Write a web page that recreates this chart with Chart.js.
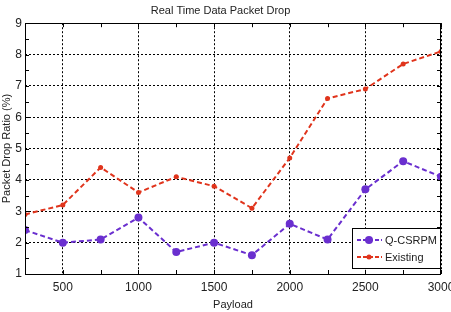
<!DOCTYPE html>
<html>
<head>
<meta charset="utf-8">
<script src="https://cdn.jsdelivr.net/npm/chart.js@4.4.0/dist/chart.umd.min.js"></script>
<style>
 html, body { margin: 0; padding: 0; background: #fff; }
 #wrap { width: 451px; height: 312px; }
</style>
</head>
<body>
<div id="wrap"><canvas id="packetDrop-canvas" width="451" height="312"></canvas></div>
<script>
// payload values (x axis)
var payload = [250, 500, 750, 1000, 1250, 1500, 1750, 2000, 2250, 2500, 2750, 3000];
// packet drop ratio (%)
var qcsrpm = [2.4, 2.0, 2.1, 2.8, 1.7, 2.0, 1.6, 2.6, 2.1, 3.7, 4.6, 4.1];
var existing = [2.9, 3.2, 4.4, 3.6, 4.1, 3.8, 3.1, 4.7, 6.6, 6.9, 7.7, 8.1];
var xTicks = [500, 1000, 1500, 2000, 2500, 3000];
var yTicks = [1, 2, 3, 4, 5, 6, 7, 8, 9];
var seriesNames = ["Q-CSRPM", "Existing"];

var lineColors = [
 "#6a2fcf", // purple
 "#e0341c", // red
];

function toPoints(values) {
 return payload.map(function (p, i) {
  return { x: p, y: values[i] };
 });
}

// frame, minor ticks and the boxed legend
var framePlugin = {
 id: "frame",
 afterDraw: function (chart) {
  var ctx = chart.ctx;
  var a = chart.chartArea;
  var xs = chart.scales.x;
  var ys = chart.scales.y;
  ctx.save();
  ctx.strokeStyle = "#000";
  ctx.lineWidth = 1;
  ctx.strokeRect(Math.round(a.left) + 0.5, Math.round(a.top) + 0.5, Math.round(a.right - a.left) - 1, Math.round(a.bottom - a.top));
  ctx.beginPath();
  for (var v = 250; v <= 3000; v += 250) {
   var px = Math.round(xs.getPixelForValue(v)) + 0.5;
   ctx.moveTo(px, a.bottom); ctx.lineTo(px, a.bottom - 4);
   ctx.moveTo(px, a.top); ctx.lineTo(px, a.top + 4);
  }
  for (var w = 1; w <= 9; w += 0.5) {
   var py = Math.round(ys.getPixelForValue(w)) + 0.5;
   ctx.moveTo(a.left, py); ctx.lineTo(a.left + 4, py);
   ctx.moveTo(a.right, py); ctx.lineTo(a.right - 4, py);
  }
  ctx.stroke();

  // legend box
  var bx = Math.round(a.right) - 89, by = Math.round(a.bottom) - 46, bw = 88, bh = 40;
  ctx.fillStyle = "#fff";
  ctx.fillRect(bx, by, bw, bh);
  ctx.strokeRect(bx + 0.5, by + 0.5, bw, bh);
  ctx.font = "11px 'Liberation Sans', Arial, sans-serif";
  ctx.textBaseline = "middle";
  chart.data.datasets.forEach(function (ds, i) {
   var ly = by + 12 + i * 17;
   ctx.strokeStyle = ds.borderColor;
   ctx.lineWidth = 2;
   ctx.setLineDash([4, 2]);
   ctx.beginPath();
   ctx.moveTo(bx + 5, ly); ctx.lineTo(bx + 30, ly);
   ctx.stroke();
   ctx.setLineDash([]);
   ctx.fillStyle = ds.borderColor;
   ctx.beginPath();
   ctx.arc(bx + 17, ly, i === 0 ? 4 : 2.5, 0, Math.PI * 2);
   ctx.fill();
   ctx.fillStyle = "#222";
   ctx.fillText(ds.label, bx + 33, ly + 1);
  });
  ctx.restore();
 },
};

var tickFont = { family: "'Liberation Sans Narrow', 'Liberation Sans', Arial", size: 12 };

var ctx = document.getElementById("packetDrop-canvas");
new Chart(ctx, {
 type: "line",
 data: {
  datasets: [
   {
    label: seriesNames[0],
    data: toPoints(qcsrpm),
    borderColor: lineColors[0],
    backgroundColor: lineColors[0],
    borderWidth: 2,
    borderDash: [5, 3],
    pointStyle: "circle",
    pointRadius: 4,
    pointBorderWidth: 0,
   },
   {
    label: seriesNames[1],
    data: toPoints(existing),
    borderColor: lineColors[1],
    backgroundColor: lineColors[1],
    borderWidth: 2,
    borderDash: [5, 3],
    pointStyle: "circle",
    pointRadius: 2.5,
    pointBorderWidth: 0,
   },
  ],
 },
 options: {
  responsive: false,
  animation: false,
  layout: { padding: { right: 10, left: 0, bottom: 0 } },
  plugins: {
   legend: { display: false },
   tooltip: { enabled: false },
   title: {
    display: true,
    text: "Real Time Data Packet Drop",
    color: "#222",
    font: { family: "'Liberation Sans Narrow', 'Liberation Sans', Arial", size: 11, weight: "normal" },
    padding: { top: 4, bottom: 6 },
   },
  },
  scales: {
   x: {
    type: "linear",
    min: 250,
    max: 3000,
    afterBuildTicks: function (scale) {
     scale.ticks = xTicks.map(function (v) { return { value: v }; });
    },
    afterFit: function (scale) {
     scale.height = 38;
     scale.paddingRight = 0;
    },
    grid: { color: "#000", lineWidth: 1, drawTicks: false },
    border: { display: false, dash: [2, 2] },
    ticks: {
     color: "#222",
     padding: 6,
     font: tickFont,
     callback: function (v) { return String(v); },
    },
    title: {
     display: true,
     text: "Payload",
     color: "#222",
     padding: { top: 2, bottom: 0 },
     font: { family: "'Liberation Sans', Arial", size: 11 },
    },
   },
   y: {
    min: 1,
    max: 9,
    afterBuildTicks: function (scale) {
     scale.ticks = yTicks.map(function (v) { return { value: v }; });
    },
    afterFit: function (scale) { scale.width = 25; },
    grid: { color: "#000", lineWidth: 1, drawTicks: false },
    border: { display: false, dash: [2, 2] },
    ticks: {
     color: "#222",
     padding: 3,
     font: tickFont,
     callback: function (v) { return String(v); },
    },
    title: {
     display: true,
     text: "Packet Drop Ratio (%)",
     color: "#222",
     padding: { top: 0, bottom: 0 },
     font: { family: "'Liberation Sans', Arial", size: 11 },
    },
   },
  },
 },
 plugins: [framePlugin],
});
</script>
</body>
</html>
